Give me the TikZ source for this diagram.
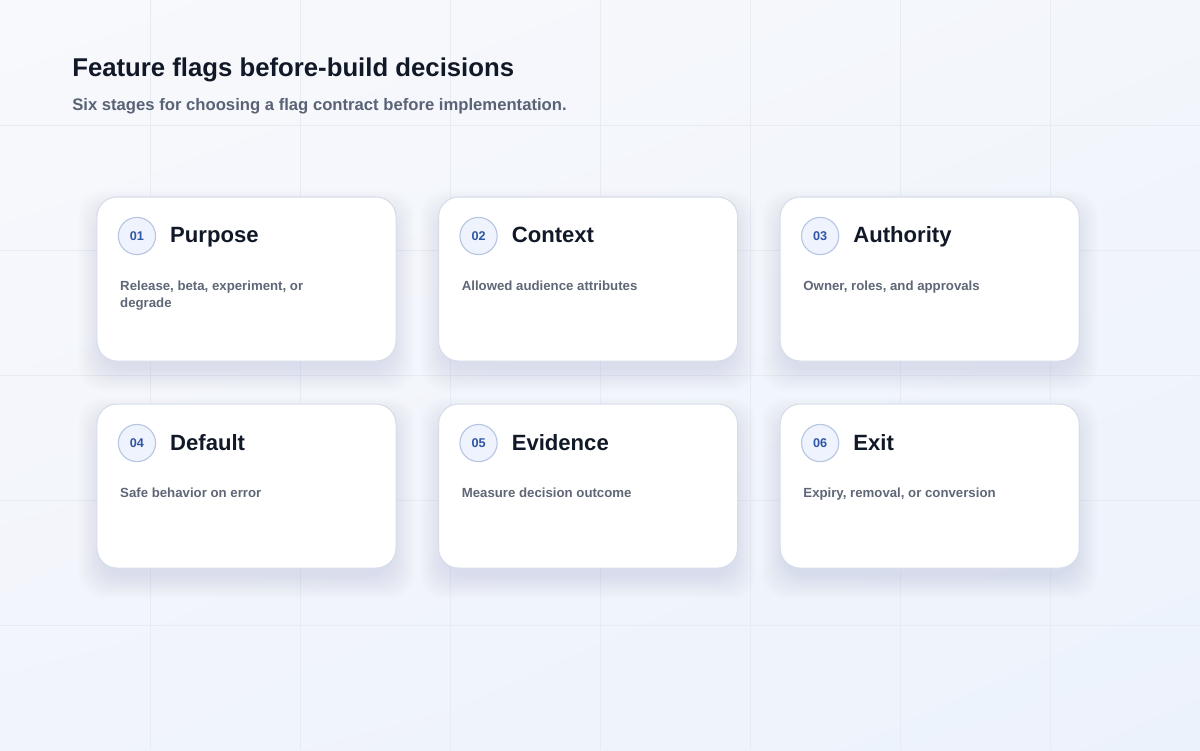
\documentclass[tikz,border=0pt]{standalone}
\usepackage{fontspec}
\setmainfont{Liberation Sans}
\usetikzlibrary{positioning,backgrounds,shadings}

\definecolor{bgtl}{HTML}{F8F9FC}
\definecolor{bgtr}{HTML}{F3F6FB}
\definecolor{bgbl}{HTML}{F1F4FB}
\definecolor{bgbr}{HTML}{ECF2FC}
\definecolor{gridc}{HTML}{E7ECF3}
\definecolor{ink}{HTML}{111827}
\definecolor{subink}{HTML}{5A6375}
\definecolor{descink}{HTML}{5F6777}
\definecolor{cardline}{HTML}{D6DDE9}
\definecolor{shadowc}{HTML}{8E99B6}
\definecolor{badgefill}{HTML}{EEF3FD}
\definecolor{badgeline}{HTML}{B7C6E3}
\definecolor{badgeink}{HTML}{2F55A4}

\tikzset{
  card/.style={draw=cardline, fill=white, line width=0.75pt, rounded corners=0.5cm,
    minimum width=7.475cm, minimum height=4.1cm, inner sep=0pt, outer sep=0pt},
  badge/.style={circle, draw=badgeline, fill=badgefill, line width=0.8pt,
    minimum size=0.93cm, inner sep=0pt, text=badgeink,
    font=\bfseries\fontsize{9}{10}\selectfont},
  cardtitle/.style={anchor=base west, inner sep=0pt, text=ink,
    font=\bfseries\fontsize{15.7}{18}\selectfont},
  carddesc/.style={anchor=north west, inner sep=0pt, align=left, text=descink,
    font=\bfseries\fontsize{9.4}{11.6}\selectfont},
}

\begin{document}
\begin{tikzpicture}[x=0.025cm, y=-0.025cm, node distance=1.075cm and 1.0625cm]
  \useasboundingbox (0,0) rectangle (1200,750);

  % heading
  \node[anchor=base west, inner sep=0pt, text=ink,
    font=\bfseries\fontsize{18.3}{21}\selectfont] (title) at (72,76)
    {Feature flags before-build decisions};
  \node[anchor=base west, inner sep=0pt, text=subink,
    font=\bfseries\fontsize{11.85}{14}\selectfont] (subtitle) at (72,110)
    {Six stages for choosing a flag contract before implementation.};

  % the six cards
  \begin{scope}[every node/.style={card}]
    \node (c01) at (246.5,279) {};
    \node (c02) [right=of c01] {};
    \node (c03) [right=of c02] {};
    \node (c04) [below=of c01] {};
    \node (c05) [right=of c04] {};
    \node (c06) [right=of c05] {};
  \end{scope}

  \foreach \n/\t/\d in {01/Purpose/{Release, beta, experiment, or\\degrade},
                        02/Context/{Allowed audience attributes},
                        03/Authority/{Owner, roles, and approvals},
                        04/Default/{Safe behavior on error},
                        05/Evidence/{Measure decision outcome},
                        06/Exit/{Expiry, removal, or conversion}} {
    \node[badge] (b\n) at ([shift={(40,39)}]c\n.north west) {\n};
    \node[cardtitle] (t\n) at ([shift={(73,46)}]c\n.north west) {\t};
    \node[carddesc] (d\n) at ([shift={(23,84)}]c\n.north west) {\d};
  }

  % backdrop, grid and soft shadows
  \begin{scope}[on background layer]
    \shade[upper left=bgtl, upper right=bgtr, lower left=bgbl, lower right=bgbr]
      (0,0) rectangle (1200,750);
    \foreach \gx in {150,300,...,1050}
      \draw[gridc, line width=0.5pt] (\gx,0) -- (\gx,750);
    \foreach \gy in {125,250,...,625}
      \draw[gridc, line width=0.5pt] (0,\gy) -- (1200,\gy);
    \foreach \c in {c01,c02,c03,c04,c05,c06}
      \foreach \i in {0,2,...,22}
        \fill[shadowc, opacity=0.016, rounded corners=0.6cm]
          ([shift={(-\i+4,-\i+16)}]\c.north west) rectangle ([shift={(\i-4,\i+8)}]\c.south east);
  \end{scope}
\end{tikzpicture}
\end{document}
